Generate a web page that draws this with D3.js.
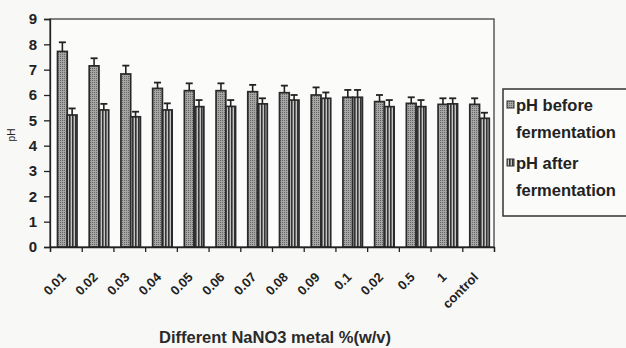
<!DOCTYPE html>
<html>
<head>
  <meta charset="utf-8">
  <title>pH before / after fermentation</title>
  <style>
    body { margin: 0; background: #f8f8f6; }
    svg { display: block; font-family: Arial, "Liberation Sans", sans-serif; }
    .axis path, .axis line { stroke: #222; stroke-width: 1.3px; }
    .axis text { font-weight: bold; font-size: 15px; fill: #222; }
  </style>
</head>
<body>
  <script src="https://d3js.org/d3.v7.min.js"></script>
  <script>
    const categories = ["0.01","0.02","0.03","0.04","0.05","0.06","0.07","0.08","0.09","0.1","0.02","0.5","1","control"];
    const phBefore    = [7.72, 7.15, 6.83, 6.26, 6.17, 6.17, 6.13, 6.09, 6.00, 5.91, 5.74, 5.67, 5.63, 5.63];
    const phBeforeErr = [0.36, 0.30, 0.33, 0.23, 0.29, 0.29, 0.27, 0.28, 0.30, 0.29, 0.26, 0.24, 0.24, 0.24];
    const phAfter     = [5.21, 5.41, 5.14, 5.41, 5.54, 5.55, 5.65, 5.80, 5.87, 5.91, 5.54, 5.54, 5.65, 5.08];
    const phAfterErr  = [0.26, 0.24, 0.20, 0.26, 0.26, 0.25, 0.22, 0.20, 0.23, 0.29, 0.26, 0.26, 0.22, 0.22];
    const yTicks = [0,1,2,3,4,5,6,7,8,9];

    const width = 626, height = 348;
    const margin = {top: 19, right: 132, bottom: 101, left: 50};
    const svg = d3.select("body").append("svg").attr("width", width).attr("height", height);

    // fill patterns: stippled grey for "before", vertical stripes for "after"
    const defs = svg.append("defs");
    const dots = defs.append("pattern").attr("id", "dots")
      .attr("width", 2).attr("height", 2).attr("patternUnits", "userSpaceOnUse");
    dots.append("rect").attr("width", 2).attr("height", 2).attr("fill", "#a6a6a6");
    dots.append("rect").attr("width", 1).attr("height", 1).attr("fill", "#666");
    const stripes = defs.append("pattern").attr("id", "stripes")
      .attr("width", 3).attr("height", 3).attr("patternUnits", "userSpaceOnUse");
    stripes.append("rect").attr("width", 3).attr("height", 3).attr("fill", "#c4c4c4");
    stripes.append("rect").attr("width", 1.6).attr("height", 3).attr("fill", "#333");

    const x = d3.scaleBand().domain(d3.range(categories.length))
      .range([margin.left, width - margin.right]).padding(0);
    const xs = d3.scaleBand().domain(["before", "after"]).range([7.5, 27]).padding(0);
    const y = d3.scaleLinear().domain([0, 9]).range([height - margin.bottom, margin.top]);
    const xLin = d3.scaleLinear().domain([0, categories.length]).range(x.range());

    // frame
    svg.append("rect")
      .attr("x", margin.left).attr("y", margin.top)
      .attr("width", width - margin.left - margin.right)
      .attr("height", height - margin.top - margin.bottom)
      .attr("fill", "#fbfbfa").attr("stroke", "#333").attr("stroke-width", 1.2);

    const series = [
      {key: "before", vals: phBefore, err: phBeforeErr, fill: "url(#dots)"},
      {key: "after", vals: phAfter, err: phAfterErr, fill: "url(#stripes)"}
    ];

    series.forEach(s => {
      const g = svg.append("g");
      const bw = xs.bandwidth();
      const cx = i => x(i) + xs(s.key) + bw / 2;
      g.selectAll("rect").data(s.vals).join("rect")
        .attr("x", (d, i) => x(i) + xs(s.key))
        .attr("y", d => y(d))
        .attr("width", bw)
        .attr("height", d => y(0) - y(d))
        .attr("fill", s.fill).attr("stroke", "#2a2a2a").attr("stroke-width", 1.7);
      g.selectAll("line.err").data(s.vals).join("line").attr("class", "err")
        .attr("x1", (d, i) => cx(i)).attr("x2", (d, i) => cx(i))
        .attr("y1", d => y(d))
        .attr("y2", (d, i) => y(d + s.err[i]))
        .attr("stroke", "#222").attr("stroke-width", 1.6);
      g.selectAll("line.cap").data(s.vals).join("line").attr("class", "cap")
        .attr("x1", (d, i) => cx(i) - 3.5).attr("x2", (d, i) => cx(i) + 3.5)
        .attr("y1", (d, i) => y(d + s.err[i]))
        .attr("y2", (d, i) => y(d + s.err[i]))
        .attr("stroke", "#222").attr("stroke-width", 1.8);
    });

    // axes
    svg.append("g").attr("class", "axis")
      .attr("transform", `translate(${margin.left},0)`)
      .call(d3.axisLeft(y).tickValues(yTicks).tickSize(6).tickPadding(7).tickFormat(d3.format("d")));

    svg.append("g").attr("class", "axis")
      .attr("transform", `translate(0,${y(0)})`)
      .call(d3.axisBottom(xLin).tickValues(d3.range(categories.length + 1)).tickSize(5).tickFormat(""));

    svg.append("g").selectAll("text").data(categories).join("text")
      .attr("transform", (d, i) => `translate(${x(i) + x.bandwidth() / 2 + 1},${y(0) + 31}) rotate(-45)`)
      .attr("text-anchor", "end")
      .attr("font-size", 13).attr("font-weight", "bold").attr("fill", "#222")
      .text(d => d);

    svg.append("text")
      .attr("x", 275).attr("y", 343)
      .attr("text-anchor", "middle").attr("font-size", 16.5).attr("font-weight", "bold").attr("fill", "#2a2a2a")
      .text("Different NaNO3 metal %(w/v)");

    svg.append("text")
      .attr("transform", `translate(15,${(margin.top + y(0)) / 2 + 2}) rotate(-90)`)
      .attr("text-anchor", "middle").attr("font-size", 10).attr("fill", "#222")
      .text("pH");

    // legend
    const lg = svg.append("g").attr("transform", "translate(503,89)");
    lg.append("rect").attr("width", 130).attr("height", 127)
      .attr("fill", "#fbfbfa").attr("stroke", "#333").attr("stroke-width", 1.5);
    const legendItems = [
      {lines: ["pH before", "fermentation"], fill: "url(#dots)", y0: 22},
      {lines: ["pH after", "fermentation"], fill: "url(#stripes)", y0: 80}
    ];
    legendItems.forEach(it => {
      lg.append("rect").attr("x", 4).attr("y", it.y0 - 10).attr("width", 7).attr("height", 7)
        .attr("fill", it.fill).attr("stroke", "#333").attr("stroke-width", 1);
      it.lines.forEach((t, j) => {
        lg.append("text").attr("x", 13).attr("y", it.y0 + j * 27)
          .attr("font-size", 16.5).attr("font-weight", "bold").attr("fill", "#222").text(t);
      });
    });
  </script>
</body>
</html>
